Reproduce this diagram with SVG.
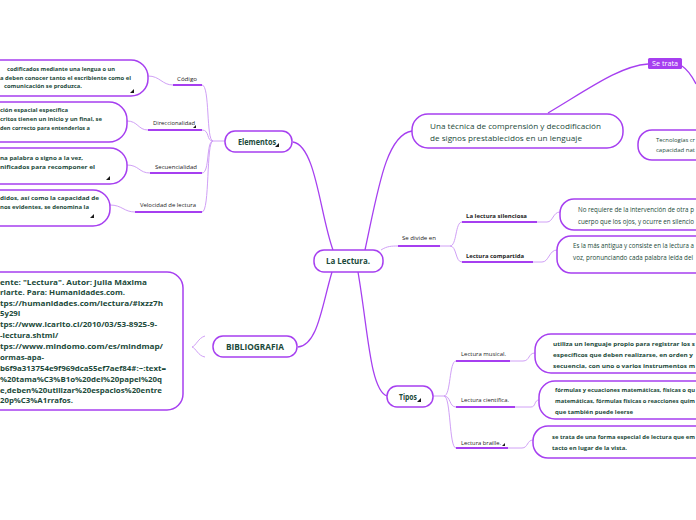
<svg xmlns="http://www.w3.org/2000/svg" width="696" height="520" viewBox="0 0 696 520">
<style>
text{font-family:"Open Sans","Liberation Sans",sans-serif;fill:#1b4a3a}
.node{fill:#fff;stroke:#a63ff0;stroke-width:1.5}
.main{fill:none;stroke:#a63ff0;stroke-width:1.3}
.light{fill:none;stroke:#d0a0f6;stroke-width:1}
.ul{fill:none;stroke:#a63ff0;stroke-width:2}
.b{font-weight:bold}
.lbl{font-size:6px;fill:#222}
.lblb{font-size:6px;fill:#222;font-weight:bold}
.sm{font-size:5.8px;font-weight:bold}
.rg{font-size:6.3px}
.ico{fill:#1a1a1a}
</style>
<g id="connectors">
  <path class="main" d="M365,250 C378,190 386,135 412,131"/>
  <path class="main" d="M548,113 C590,88 620,66 648,64"/>
  <path class="main" d="M682,66 C688,70 692,76 696,84"/>
  <path class="main" d="M293,142 C316,146 320,215 333,250"/>
  <path class="main" d="M332,272 C322,305 318,345 298,347"/>
  <path class="main" d="M358,272 C368,330 370,390 387,396"/>
  <path class="light" d="M205,336 C198,338 196,346 192,347 C196,348 198,356 205,357"/>
  <path class="light" d="M225,141 L213,141"/>
  <path class="light" d="M213,141 C206,141 210,85 202,85"/>
  <path class="light" d="M213,141 C206,141 210,130 202,130"/>
  <path class="light" d="M213,141 C206,141 210,173 202,173"/>
  <path class="light" d="M213,141 C206,141 210,212 202,212"/>
  <path class="ul" d="M173,85 L202,85"/>
  <path class="ul" d="M148,130 L202,130"/>
  <path class="ul" d="M150,173 L202,173"/>
  <path class="ul" d="M135,212 L202,212"/>
  <path class="light" d="M148,76 C160,76 162,85 173,85"/>
  <path class="light" d="M127,121 C138,121 138,130 148,130"/>
  <path class="light" d="M127,165 C139,165 139,173 150,173"/>
  <path class="light" d="M110,205 C122,205 124,212 135,212"/>
  <path class="light" d="M381,250 C387,246 392,246 398,246 L450,246"/>
  <path class="ul" d="M398,246 L440,246"/>
  <path class="light" d="M450,246 C457,246 455,222 462,222"/>
  <path class="light" d="M450,246 C457,246 455,262 462,262"/>
  <path class="ul" d="M462,222 L537,222"/>
  <path class="ul" d="M462,262 L533,262"/>
  <path class="light" d="M537,222 L547,222 C553,222 553,212 560,212"/>
  <path class="light" d="M533,262 L542,262 C549,262 549,250 557,250"/>
  <path class="light" d="M433,396 L444,396"/>
  <path class="light" d="M444,396 C451,396 449,361 456,361"/>
  <path class="light" d="M444,396 C451,396 449,407 456,407"/>
  <path class="light" d="M444,396 C451,396 449,448 456,448"/>
  <path class="ul" d="M456,361 L510,361"/>
  <path class="ul" d="M456,407 L515,407"/>
  <path class="ul" d="M456,448 L508,448"/>
  <path class="light" d="M510,361 L523,361 C530,361 528,353 535,353"/>
  <path class="light" d="M515,407 L531,407 C536,407 534,400 539,400"/>
  <path class="light" d="M508,448 L522,448 C528,448 527,440 533,440"/>
</g>

<g id="n-central">
  <rect class="node" x="314" y="250" width="69" height="22" rx="10"/>
  <text x="326" y="264" class="b" font-size="8.5" textLength="44" lengthAdjust="spacingAndGlyphs">La Lectura.</text>
</g>

<g id="n-elementos">
  <rect class="node" x="225" y="131" width="67" height="21" rx="10"/>
  <text x="238" y="145" class="b" font-size="8" textLength="38" lengthAdjust="spacingAndGlyphs">Elementos</text>
  <polygon class="ico" points="275,147 279,147 279,143"/>
</g>

<g id="n-bibliografia">
  <rect class="node" x="213" y="336" width="84" height="21" rx="10"/>
  <text x="226" y="350" class="b" font-size="8" textLength="58" lengthAdjust="spacingAndGlyphs">BIBLIOGRAFIA</text>
</g>

<g id="n-tipos">
  <rect class="node" x="387" y="386" width="46" height="21" rx="10"/>
  <text x="399" y="400" class="b" font-size="8" textLength="18" lengthAdjust="spacingAndGlyphs">Tipos</text>
  <polygon class="ico" points="417,402 421,402 421,398"/>
</g>

<g id="n-tecnica">
  <rect class="node" x="412" y="114" width="211" height="34" rx="16"/>
  <text x="430" y="129" font-size="8" textLength="171" lengthAdjust="spacingAndGlyphs">Una técnica de comprensión y decodificación</text>
  <text x="430" y="141" font-size="8" textLength="152" lengthAdjust="spacingAndGlyphs">de signos prestablecidos en un lenguaje</text>
</g>

<g id="n-setrata">
  <rect x="648" y="58" width="34" height="11" rx="1.5" fill="#a63ff0"/>
  <text x="652" y="66" font-size="6.5" textLength="26" lengthAdjust="spacingAndGlyphs" style="fill:#fff">Se trata</text>
</g>

<g id="n-tecnologias">
  <rect class="node" x="638" y="130" width="80" height="30" rx="14"/>
  <text x="656" y="141.5" font-size="5.5" textLength="39" lengthAdjust="spacingAndGlyphs">Tecnologías cr</text>
  <text x="656" y="152" font-size="5.5" textLength="39" lengthAdjust="spacingAndGlyphs">capacidad nat</text>
</g>

<g id="l-sedivide"><text x="402" y="240" class="lbl" textLength="34" lengthAdjust="spacingAndGlyphs">Se divide en</text></g>
<g id="l-silenciosa"><text x="466" y="218" class="lblb" textLength="61" lengthAdjust="spacingAndGlyphs">La lectura silenciosa</text></g>
<g id="l-compartida"><text x="466" y="258" class="lblb" textLength="58" lengthAdjust="spacingAndGlyphs">Lectura compartida</text></g>

<g id="n-norequiere">
  <rect class="node" x="560" y="199" width="160" height="31" rx="14"/>
  <text x="578" y="212" class="rg" textLength="116" lengthAdjust="spacingAndGlyphs">No requiere de la intervención de otra p</text>
  <text x="578" y="224" class="rg" textLength="116" lengthAdjust="spacingAndGlyphs">cuerpo que los ojos, y ocurre en silencio</text>
</g>

<g id="n-antigua">
  <rect class="node" x="557" y="236" width="160" height="37" rx="14"/>
  <text x="573" y="248" class="rg" textLength="121" lengthAdjust="spacingAndGlyphs">Es la más antigua y consiste en la lectura a</text>
  <text x="573" y="260" class="rg" textLength="120" lengthAdjust="spacingAndGlyphs">voz, pronunciando cada palabra leída del</text>
</g>

<g id="l-musical"><text x="461" y="356" class="lbl" textLength="45" lengthAdjust="spacingAndGlyphs">Lectura musical.</text></g>
<g id="l-cientifica"><text x="461" y="402" class="lbl" textLength="48" lengthAdjust="spacingAndGlyphs">Lectura científica.</text></g>
<g id="l-braille"><text x="461" y="445" class="lbl" textLength="40" lengthAdjust="spacingAndGlyphs">Lectura braille.</text><polygon class="ico" points="502,446 505,446 505,443"/></g>

<g id="n-musical">
  <rect class="node" x="535" y="334" width="180" height="39" rx="16"/>
  <text x="553" y="346" class="sm" textLength="142" lengthAdjust="spacingAndGlyphs">utiliza un lenguaje propio para registrar los s</text>
  <text x="553" y="357" class="sm" textLength="140" lengthAdjust="spacingAndGlyphs">específicos que deben realizarse, en orden y</text>
  <text x="553" y="368" class="sm" textLength="142" lengthAdjust="spacingAndGlyphs">secuencia, con uno o varios instrumentos m</text>
</g>

<g id="n-cientifica">
  <rect class="node" x="539" y="381" width="180" height="38" rx="16"/>
  <text x="555" y="392" class="sm" textLength="140" lengthAdjust="spacingAndGlyphs">fórmulas y ecuaciones matemáticas, físicas o qu</text>
  <text x="555" y="403" class="sm" textLength="140" lengthAdjust="spacingAndGlyphs">matemáticas, fórmulas físicas o reacciones quím</text>
  <text x="555" y="414" class="sm" textLength="78" lengthAdjust="spacingAndGlyphs">que también puede leerse</text>
</g>

<g id="n-braille">
  <rect class="node" x="533" y="426" width="180" height="32" rx="15"/>
  <text x="552" y="439" class="sm" textLength="143" lengthAdjust="spacingAndGlyphs">se trata de una forma especial de lectura que em</text>
  <text x="552" y="449.5" class="sm" textLength="75" lengthAdjust="spacingAndGlyphs">tacto en lugar de la vista.</text>
</g>

<g id="l-codigo"><text x="177" y="81" class="lbl" textLength="20" lengthAdjust="spacingAndGlyphs">Código</text></g>
<g id="l-direccionalidad"><text x="153" y="125" class="lbl" textLength="42" lengthAdjust="spacingAndGlyphs">Direccionalidad</text><polygon class="ico" points="193,128 196,128 196,125"/></g>
<g id="l-secuencialidad"><text x="155" y="169" class="lbl" textLength="42" lengthAdjust="spacingAndGlyphs">Secuencialidad</text></g>
<g id="l-velocidad"><text x="140" y="207" class="lbl" textLength="56" lengthAdjust="spacingAndGlyphs">Velocidad de lectura</text></g>

<g id="n-codigo">
  <rect class="node" x="-40" y="60" width="188" height="36" rx="17"/>
  <text x="7" y="71" class="sm" textLength="108" lengthAdjust="spacingAndGlyphs">codificados mediante una lengua o un</text>
  <text x="0" y="79.5" class="sm" textLength="131" lengthAdjust="spacingAndGlyphs">a deben conocer tanto el escribiente como el</text>
  <text x="4" y="88" class="sm" textLength="78" lengthAdjust="spacingAndGlyphs">comunicación se produzca.</text>
  <polygon class="ico" points="130,93 134,93 134,89"/>
</g>

<g id="n-direccionalidad">
  <rect class="node" x="-40" y="102" width="167" height="40" rx="18"/>
  <text x="0" y="112" class="sm" textLength="68" lengthAdjust="spacingAndGlyphs">ción espacial específica</text>
  <text x="0" y="121" class="sm" textLength="102" lengthAdjust="spacingAndGlyphs">critos tienen un inicio y un final, se</text>
  <text x="0" y="130" class="sm" textLength="90" lengthAdjust="spacingAndGlyphs">den correcto para entenderlos a</text>
</g>

<g id="n-secuencialidad">
  <rect class="node" x="-40" y="148" width="167" height="36" rx="17"/>
  <text x="0" y="160" class="sm" textLength="83" lengthAdjust="spacingAndGlyphs">na palabra o signo a la vez,</text>
  <text x="0" y="169" class="sm" textLength="95" lengthAdjust="spacingAndGlyphs">nificados para recomponer el</text>
  <polygon class="ico" points="106,180 110,180 110,176"/>
</g>

<g id="n-velocidad">
  <rect class="node" x="-40" y="190" width="150" height="36" rx="17"/>
  <text x="0" y="200" class="sm" textLength="99" lengthAdjust="spacingAndGlyphs">didos, así como la capacidad de</text>
  <text x="0" y="209" class="sm" textLength="89" lengthAdjust="spacingAndGlyphs">nos evidentes, se denomina la</text>
  <polygon class="ico" points="90,218 94,218 94,214"/>
</g>

<g id="n-fuente">
  <rect class="node" x="-40" y="272" width="223" height="138" rx="16"/>
  <g class="b" font-size="7.8">
    <text x="0" y="284.5" textLength="147" lengthAdjust="spacingAndGlyphs">ente: "Lectura". Autor: Julia Máxima</text>
    <text x="0" y="295" textLength="125" lengthAdjust="spacingAndGlyphs">riarte. Para: Humanidades.com.</text>
    <text x="0" y="305.5" textLength="163" lengthAdjust="spacingAndGlyphs">tps://humanidades.com/lectura/#ixzz7h</text>
    <text x="0" y="316">5y29I</text>
    <text x="0" y="326.5" textLength="157" lengthAdjust="spacingAndGlyphs">tps://www.icarito.cl/2010/03/53-8925-9-</text>
    <text x="0" y="338">-lectura.shtml/</text>
    <text x="0" y="349" textLength="163" lengthAdjust="spacingAndGlyphs">tps://www.mindomo.com/es/mindmap/</text>
    <text x="0" y="359.5">ormas-apa-</text>
    <text x="0" y="370.5" textLength="166" lengthAdjust="spacingAndGlyphs">b6f9a313754e9f969dca55ef7aef84#:~:text=</text>
    <text x="0" y="381.5" textLength="162" lengthAdjust="spacingAndGlyphs">%20tama%C3%B1o%20del%20papel%20q</text>
    <text x="0" y="392.5" textLength="162" lengthAdjust="spacingAndGlyphs">e,deben%20utilizar%20espacios%20entre</text>
    <text x="0" y="403">20p%C3%A1rrafos.</text>
  </g>
</g>
</svg>
